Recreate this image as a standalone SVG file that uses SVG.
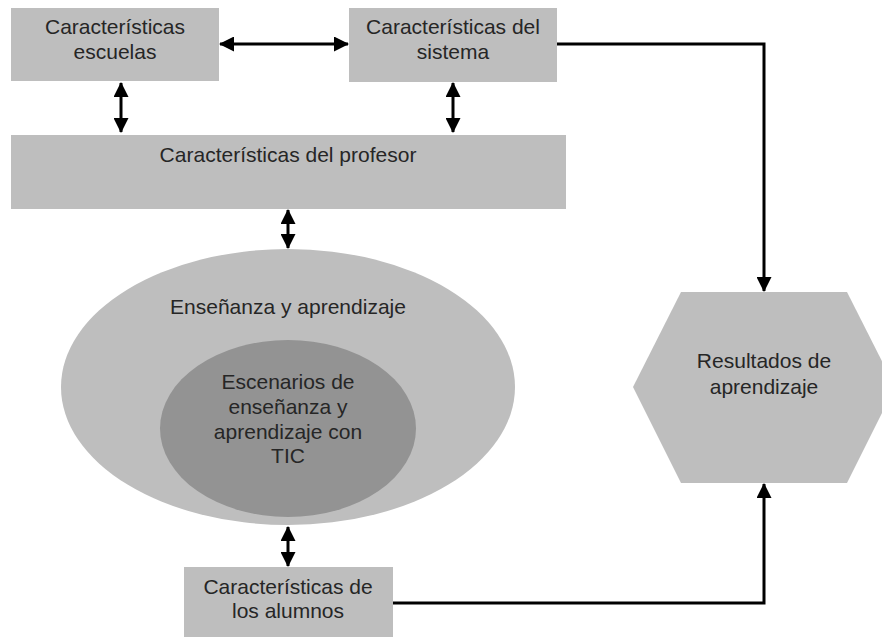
<svg xmlns="http://www.w3.org/2000/svg" width="882" height="637" viewBox="0 0 882 637">
<style>
.n{fill:#bebebe}
.t{font-family:"Liberation Sans",Arial,sans-serif;font-size:21px;fill:#262626;text-anchor:middle}
.c{fill:none;stroke:#000;stroke-width:3}
</style>
<defs>
<marker id="ah" markerUnits="userSpaceOnUse" markerWidth="15" markerHeight="15" viewBox="0 0 15 15" refX="14" refY="7.5" orient="auto-start-reverse">
<path d="M0,0 L15,7.5 L0,15 Z" fill="#000"/>
</marker>
</defs>
<rect width="882" height="637" fill="#fff"/>
<g id="escuelas">
<rect class="n" x="11" y="8" width="208" height="73"/>
<text class="t" x="115" y="34">Características</text>
<text class="t" x="115" y="59">escuelas</text>
</g>
<g id="sistema">
<rect class="n" x="349" y="8" width="208" height="74"/>
<text class="t" x="453" y="34">Características del</text>
<text class="t" x="453" y="59">sistema</text>
</g>
<g id="profesor">
<rect class="n" x="11" y="135" width="555" height="74"/>
<text class="t" x="288" y="162">Características del profesor</text>
</g>
<g id="ensenanza">
<ellipse cx="288" cy="387" rx="227" ry="138" fill="#bebebe"/>
<text class="t" x="288" y="314">Enseñanza y aprendizaje</text>
</g>
<g id="escenarios">
<ellipse cx="288" cy="428.5" rx="128" ry="88.5" fill="#939393"/>
<text class="t" x="288" y="389">Escenarios de</text>
<text class="t" x="288" y="414">enseñanza y</text>
<text class="t" x="288" y="439">aprendizaje con</text>
<text class="t" x="288" y="463">TIC</text>
</g>
<g id="alumnos">
<rect class="n" x="184" y="567" width="209" height="70"/>
<text class="t" x="288" y="594">Características de</text>
<text class="t" x="288" y="618">los alumnos</text>
</g>
<g id="resultados">
<polygon class="n" points="681,292 847,292 895,387 847,483 681,483 633,387"/>
<text class="t" x="764" y="368">Resultados de</text>
<text class="t" x="764" y="394">aprendizaje</text>
</g>
<g id="connectors">
<line class="c" x1="220" y1="44" x2="348" y2="44" marker-start="url(#ah)" marker-end="url(#ah)"/>
<line class="c" x1="121" y1="83" x2="121" y2="132" marker-start="url(#ah)" marker-end="url(#ah)"/>
<line class="c" x1="453" y1="83" x2="453" y2="132" marker-start="url(#ah)" marker-end="url(#ah)"/>
<line class="c" x1="288" y1="210" x2="288" y2="248" marker-start="url(#ah)" marker-end="url(#ah)"/>
<line class="c" x1="288" y1="527" x2="288" y2="566" marker-start="url(#ah)" marker-end="url(#ah)"/>
<polyline class="c" points="557,44 764,44 764,291" marker-end="url(#ah)"/>
<polyline class="c" points="393,603 764,603 764,484" marker-end="url(#ah)"/>
</g>
</svg>
